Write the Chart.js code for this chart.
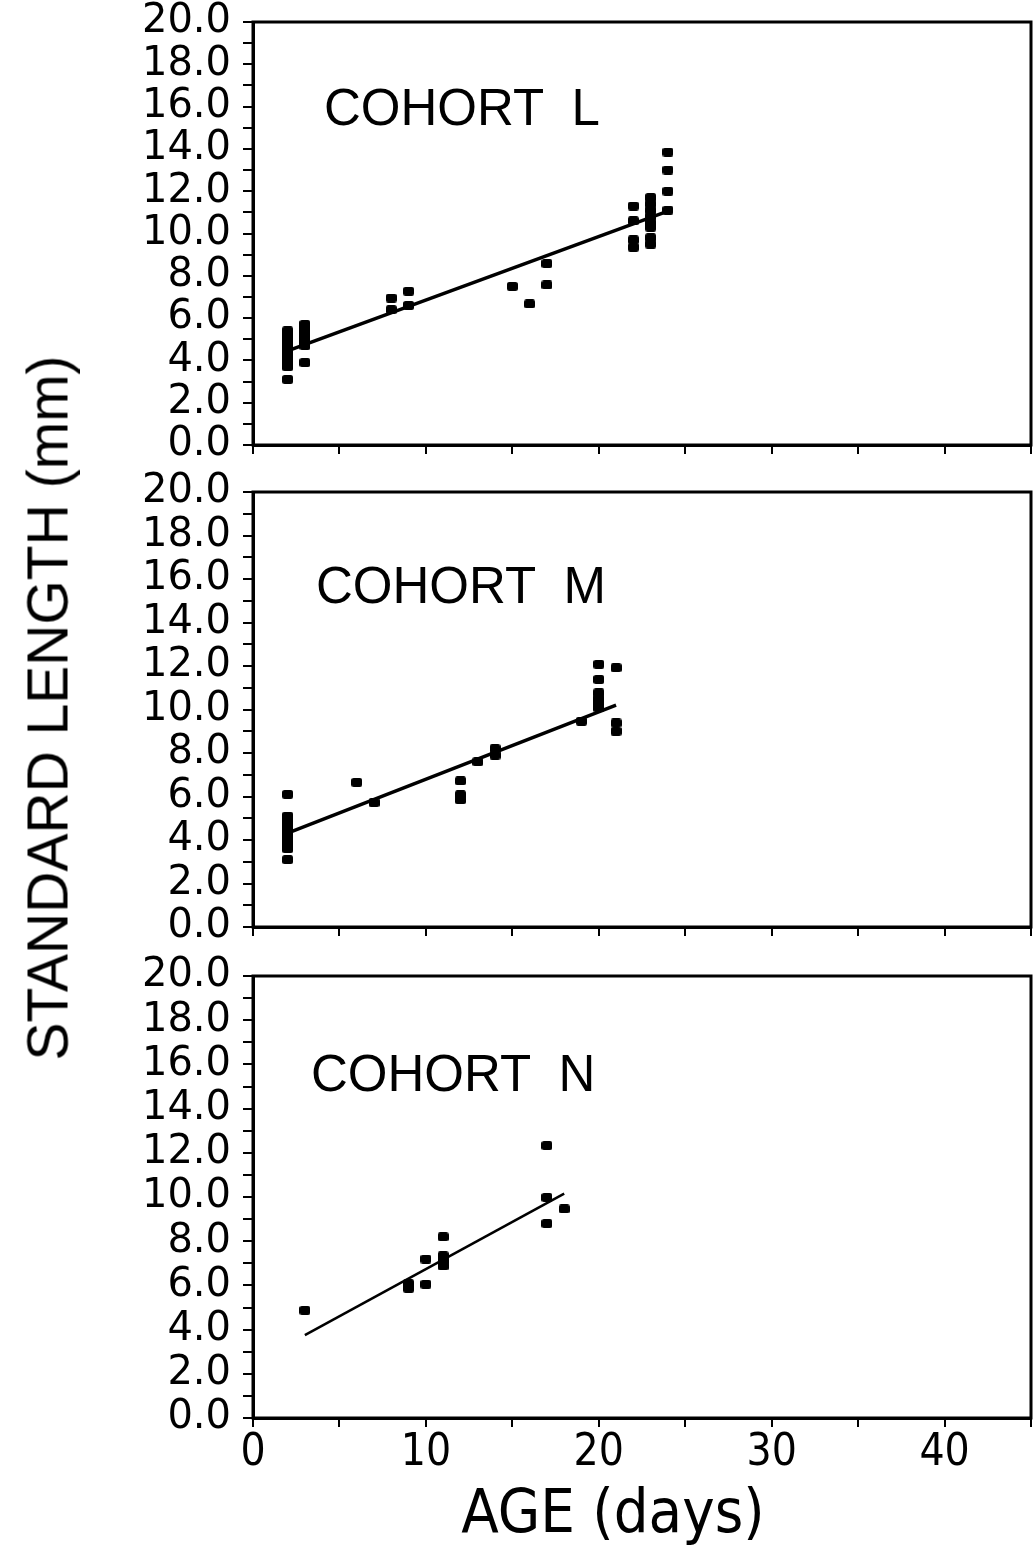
<!DOCTYPE html>
<html>
<head>
<meta charset="utf-8">
<script src="https://cdn.jsdelivr.net/npm/chart.js@4.4.1/dist/chart.umd.min.js"></script>
<style>
  body { margin: 0; background: #fff; }
  #wrap { position: relative; width: 1036px; height: 1547px; overflow: hidden; background: #fff; color: #000;
          font-family: "Liberation Sans", Arial, sans-serif; }
  canvas { position: absolute; left: 0; }
  .cohort { position: absolute; font-size: 51px; line-height: 1; white-space: pre; }
  #ytitle { position: absolute; left: 48px; top: 708px; font-size: 57px; line-height: 1; white-space: nowrap;
            transform: translate(-50%, -50%) rotate(-90deg); }
  #xtitle { position: absolute; left: 613px; top: 1480px; transform: translateX(-50%); font-size: 61px; line-height: 1;
            white-space: nowrap; font-family: "Liberation Sans Narrow", "DejaVu Sans Condensed", sans-serif; }
</style>
</head>
<body>
<div id="wrap">
  <canvas id="cL" width="1036" height="503" style="top:-18px"></canvas>
  <canvas id="cM" width="1036" height="515" style="top:452px"></canvas>
  <canvas id="cN" width="1036" height="611" style="top:936px"></canvas>
  <div class="cohort" style="left:324px;top:82px">COHORT  L</div>
  <div class="cohort" style="left:316px;top:560px">COHORT  M</div>
  <div class="cohort" style="left:311px;top:1048px">COHORT  N</div>
  <div id="ytitle">STANDARD LENGTH (mm)</div>
  <div id="xtitle">AGE (days)</div>
</div>
<script>
// ── Data (age in days, standard length in mm) ──
const L_AGE = [2,2,2,2,2,2,2,2,2,2,2, 3,3,3,3,3,3,3, 8,8, 9,9, 15, 16, 17,17, 22,22,22,22, 23,23,23,23,23,23,23,23, 24,24,24,24];
const L_SL  = [5.4,5.2,5.0,4.8,4.6,4.4,4.2,4.0,3.8,3.7,3.1, 5.7,5.5,5.3,5.1,4.9,4.7,3.9, 6.95,6.4, 7.27,6.6, 7.5, 6.67, 8.58,7.57,
               11.3,10.6,9.7,9.35, 11.7,11.4,11.1,10.8,10.5,10.3,9.8,9.5, 13.85,13.0,12.0,11.1];
const L_FIT_AGE = [2, 24];
const L_FIT_SL  = [4.45, 11.06];

const M_AGE = [2,2,2,2,2,2,2,2,2,2,2, 6, 7, 12,12,12, 13, 14,14, 19, 20,20,20,20,20,20, 21,21,21];
const M_SL  = [6.1,5.1,4.9,4.7,4.5,4.3,4.1,3.9,3.7,3.6,3.1, 6.65, 5.72, 6.72,6.08,5.85, 7.6, 8.2,7.9, 9.46,
               12.08,11.38,10.77,10.5,10.3,10.08, 11.92,9.38,9.0];
const M_FIT_AGE = [2, 21];
const M_FIT_SL  = [4.32, 10.2];

const N_AGE = [3, 9,9, 10,10, 11,11,11,11, 17,17,17, 18];
const N_SL  = [4.87, 6.08,5.87, 7.19,6.05, 8.2,7.34,7.11,6.88, 12.33,9.98,8.8, 9.46];
const N_FIT_AGE = [3, 18];
const N_FIT_SL  = [3.75, 10.15];

const X_TICK_LABELS = [0, 10, 20, 30, 40];

// ── Marker: small filled rounded block ──
const mark = document.createElement("canvas");
mark.width = 11; mark.height = 9;
const mctx = mark.getContext("2d");
mctx.fillStyle = "#000";
mctx.beginPath();
if (mctx.roundRect) mctx.roundRect(0, 0, 11, 9, 2.5); else mctx.rect(0, 0, 11, 9);
mctx.fill();

const frame = {
  id: "frame",
  afterDraw(chart) {
    const { ctx, chartArea: a } = chart;
    ctx.save();
    ctx.lineWidth = 3;
    ctx.strokeStyle = "#000";
    ctx.strokeRect(a.left, a.top, a.right - a.left, a.bottom - a.top);
    ctx.restore();
  },
};

const toXY = (xs, ys) => xs.map((x, i) => ({ x, y: ys[i] }));

// top padding is kept larger than the y label overhang so the plot box lands where we want
function panel(id, ages, sl, fitAge, fitSl, xh, lineW, showX) {
  const canvas = document.getElementById(id);
  new Chart(canvas.getContext("2d"), {
    type: "scatter",
    data: {
      datasets: [
        { data: toXY(ages, sl), pointStyle: mark, pointRadius: 5, borderWidth: 0, backgroundColor: "#000" },
        { type: "line", data: toXY(fitAge, fitSl), borderColor: "#000", borderWidth: lineW, pointRadius: 0, fill: false },
      ],
    },
    options: {
      responsive: false,
      animation: false,
      events: [],
      layout: { padding: { top: 40, right: 3, left: 0, bottom: 0 } },
      plugins: { legend: { display: false }, tooltip: { enabled: false } },
      scales: {
        x: {
          type: "linear", min: 0, max: 45,
          border: { display: true, color: "#000", width: 3 },
          grid: { drawOnChartArea: false, drawTicks: true, tickLength: 9, color: "#000", lineWidth: 2 },
          ticks: {
            stepSize: 5, autoSkip: false, maxRotation: 0, padding: 0, color: "#000",
            font: { family: "'Liberation Sans Narrow', 'DejaVu Sans Condensed', sans-serif", size: 44 },
            callback: (v) => (showX && X_TICK_LABELS.includes(v) ? String(v) : ""),
          },
          afterFit: (s) => { s.height = xh; },
        },
        y: {
          type: "linear", min: 0, max: 20,
          border: { display: true, color: "#000", width: 3 },
          grid: { drawOnChartArea: false, drawTicks: true, tickLength: 10, color: "#000", lineWidth: 2 },
          ticks: {
            stepSize: 1, autoSkip: false, padding: 12, color: "#000",
            font: { family: "'DejaVu Sans', sans-serif", size: 40, lineHeight: 1 },
            callback: (v) => (v % 2 === 0 ? v.toFixed(1) : ""),
          },
          afterFit: (s) => { s.width = 253; },
        },
      },
    },
    plugins: [frame],
  });
}

panel("cL", L_AGE, L_SL, L_FIT_AGE, L_FIT_SL, 40, 3.5, false);
panel("cM", M_AGE, M_SL, M_FIT_AGE, M_FIT_SL, 40, 3.5, false);
panel("cN", N_AGE, N_SL, N_FIT_AGE, N_FIT_SL, 129, 2.5, true);
</script>
</body>
</html>
